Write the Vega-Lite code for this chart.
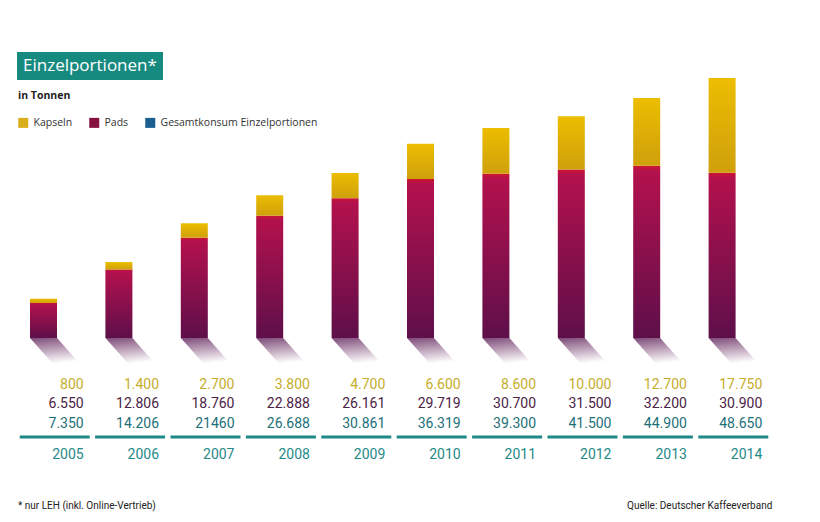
{
  "$schema": "https://vega.github.io/schema/vega-lite/v6.json",
  "width": 754,
  "height": 278,
  "autosize": {"type": "none"},
  "padding": {"left": 17, "top": 60, "right": 49, "bottom": 184},
  "background": "white",
  "config": {
    "view": {"stroke": null},
    "locale": {"number": {"decimal": ",", "thousands": ".", "grouping": [3], "currency": ["", " €"]}},
    "text": {"font": "Roboto"}
  },
  "datasets": {
    "table": [
      {"year": "2005", "Kapseln": 800, "Pads": 6550, "total": 7350},
      {"year": "2006", "Kapseln": 1400, "Pads": 12806, "total": 14206},
      {"year": "2007", "Kapseln": 2700, "Pads": 18760, "total": 21460},
      {"year": "2008", "Kapseln": 3800, "Pads": 22888, "total": 26688},
      {"year": "2009", "Kapseln": 4700, "Pads": 26161, "total": 30861},
      {"year": "2010", "Kapseln": 6600, "Pads": 29719, "total": 36319},
      {"year": "2011", "Kapseln": 8600, "Pads": 30700, "total": 39300},
      {"year": "2012", "Kapseln": 10000, "Pads": 31500, "total": 41500},
      {"year": "2013", "Kapseln": 12700, "Pads": 32200, "total": 44900},
      {"year": "2014", "Kapseln": 17750, "Pads": 30900, "total": 48650}
    ]
  },
  "data": {"name": "table"},
  "encoding": {
    "x": {"field": "year", "type": "ordinal", "axis": null, "scale": {"paddingInner": 0, "paddingOuter": 0}}
  },
  "layer": [
    {
      "mark": {
        "type": "point",
        "shape": "M -1 -0.53 L 0.06 -0.53 L 1 0.53 L -0.06 0.53 Z",
        "size": 2601,
        "filled": true,
        "opacity": 1,
        "strokeWidth": 0,
        "xOffset": 0.8,
        "yOffset": 13.5,
        "fill": {"gradient": "linear", "x1": 0, "y1": 0, "x2": 0.2, "y2": 1, "stops": [{"offset": 0, "color": "#7e4a78"}, {"offset": 1, "color": "#ffffff"}]}
      },
      "encoding": {"y": {"datum": 0, "type": "quantitative", "axis": null, "scale": {"domain": [0, 52000], "nice": false, "zero": true}}}
    },
    {
      "mark": {
        "type": "bar", "width": 27, "xOffset": -11.2,
        "fill": {"gradient": "linear", "x1": 0, "y1": 0, "x2": 0, "y2": 1, "stops": [{"offset": 0, "color": "#cc1530"}, {"offset": 0.03, "color": "#b3114d"}, {"offset": 1, "color": "#5e0f4a"}]}
      },
      "encoding": {
        "y": {"field": "Pads", "type": "quantitative", "axis": null, "scale": {"domain": [0, 52000], "nice": false}}
      }
    },
    {
      "mark": {
        "type": "bar", "width": 27, "xOffset": -11.2,
        "fill": {"gradient": "linear", "x1": 0, "y1": 0, "x2": 0, "y2": 1, "stops": [{"offset": 0, "color": "#ecbd00"}, {"offset": 1, "color": "#cfa00c"}]}
      },
      "encoding": {
        "y": {"field": "total", "type": "quantitative", "scale": {"domain": [0, 52000], "nice": false}},
        "y2": {"field": "Pads"}
      }
    },
    {
      "data": {"values": [{"serie": "Kapseln"}, {"serie": "Pads"}, {"serie": "Gesamtkonsum Einzelportionen"}]},
      "mark": {"type": "point", "filled": true, "opacity": 0},
      "encoding": {
        "x": {"datum": "2005", "type": "ordinal"},
        "y": {"datum": 0, "type": "quantitative"},
        "color": {
          "field": "serie",
          "type": "nominal",
          "scale": {"domain": ["Kapseln", "Pads", "Gesamtkonsum Einzelportionen"], "range": ["#d9ad1c", "#86103f", "#1a5f8f"]},
          "legend": {
            "title": "in Tonnen",
            "orient": "none",
            "legendX": 1,
            "legendY": 31,
            "direction": "horizontal",
            "symbolType": "square",
            "symbolSize": 100,
            "symbolStrokeWidth": 0,
            "symbolOpacity": 1,
            "titleFont": "Open Sans",
            "titleFontSize": 10.5,
            "titleFontWeight": "bold",
            "titleColor": "#222222",
            "titlePadding": 16,
            "titleAnchor": "start",
            "labelFont": "Open Sans",
            "labelFontSize": 10.5,
            "labelColor": "#333333",
            "labelOffset": 5,
            "columnPadding": 16
          }
        }
      }
    },
    {
      "mark": {"type": "tick", "orient": "horizontal", "size": 70, "thickness": 3, "color": "#1d8a87", "yOffset": 99},
      "encoding": {
        "y": {"datum": 0, "type": "quantitative"},
        "opacity": {
          "field": "year",
          "type": "ordinal",
          "scale": {"range": [1, 1]},
          "legend": {
            "title": "Einzelportionen*",
            "values": [],
            "orient": "none",
            "legendX": 0,
            "legendY": -8,
            "fillColor": "#178a80",
            "padding": 6,
            "titleColor": "white",
            "titleFont": "Open Sans",
            "titleFontSize": 17,
            "titleFontWeight": "normal",
            "titlePadding": 0
          }
        }
      }
    },
    {
      "mark": {"type": "text", "align": "right", "baseline": "middle", "dx": 29, "dy": 47, "fontSize": 14, "color": "#c5ad2c"},
      "encoding": {
        "y": {"datum": 0, "type": "quantitative"},
        "text": {"field": "Kapseln", "type": "quantitative", "format": ",d"}
      }
    },
    {
      "mark": {"type": "text", "align": "right", "baseline": "middle", "dx": 29, "dy": 66, "fontSize": 14, "color": "#4b2345"},
      "encoding": {
        "y": {"datum": 0, "type": "quantitative"},
        "text": {"field": "Pads", "type": "quantitative", "format": ",d"}
      }
    },
    {
      "mark": {"type": "text", "align": "right", "baseline": "middle", "dx": 29, "dy": 86, "fontSize": 14, "color": "#1d6f7a"},
      "encoding": {
        "y": {"datum": 0, "type": "quantitative"},
        "text": {
          "condition": {"test": "datum.year === '2007'", "field": "total", "type": "quantitative", "format": "d"},
          "field": "total", "type": "quantitative", "format": ",d"
        }
      }
    },
    {
      "mark": {"type": "text", "align": "right", "baseline": "middle", "dx": 29, "dy": 117, "fontSize": 14, "color": "#1f8a88"},
      "encoding": {
        "y": {"datum": 0, "type": "quantitative"},
        "text": {"field": "year", "type": "nominal"}
      }
    },
    {
      "data": {"values": [{"note": "* nur LEH (inkl. Online-Vertrieb)"}]},
      "mark": {"type": "text", "align": "left", "baseline": "middle", "dx": -36.7, "dy": 168, "fontSize": 10, "color": "#222222"},
      "encoding": {
        "x": {"datum": "2005", "type": "ordinal"},
        "y": {"datum": 0, "type": "quantitative"},
        "text": {"field": "note", "type": "nominal"}
      }
    },
    {
      "data": {"values": [{"note": "Quelle: Deutscher Kaffeeverband"}]},
      "mark": {"type": "text", "align": "right", "baseline": "middle", "dx": 39, "dy": 168, "fontSize": 10, "color": "#222222"},
      "encoding": {
        "x": {"datum": "2014", "type": "ordinal"},
        "y": {"datum": 0, "type": "quantitative"},
        "text": {"field": "note", "type": "nominal"}
      }
    }
  ]
}
